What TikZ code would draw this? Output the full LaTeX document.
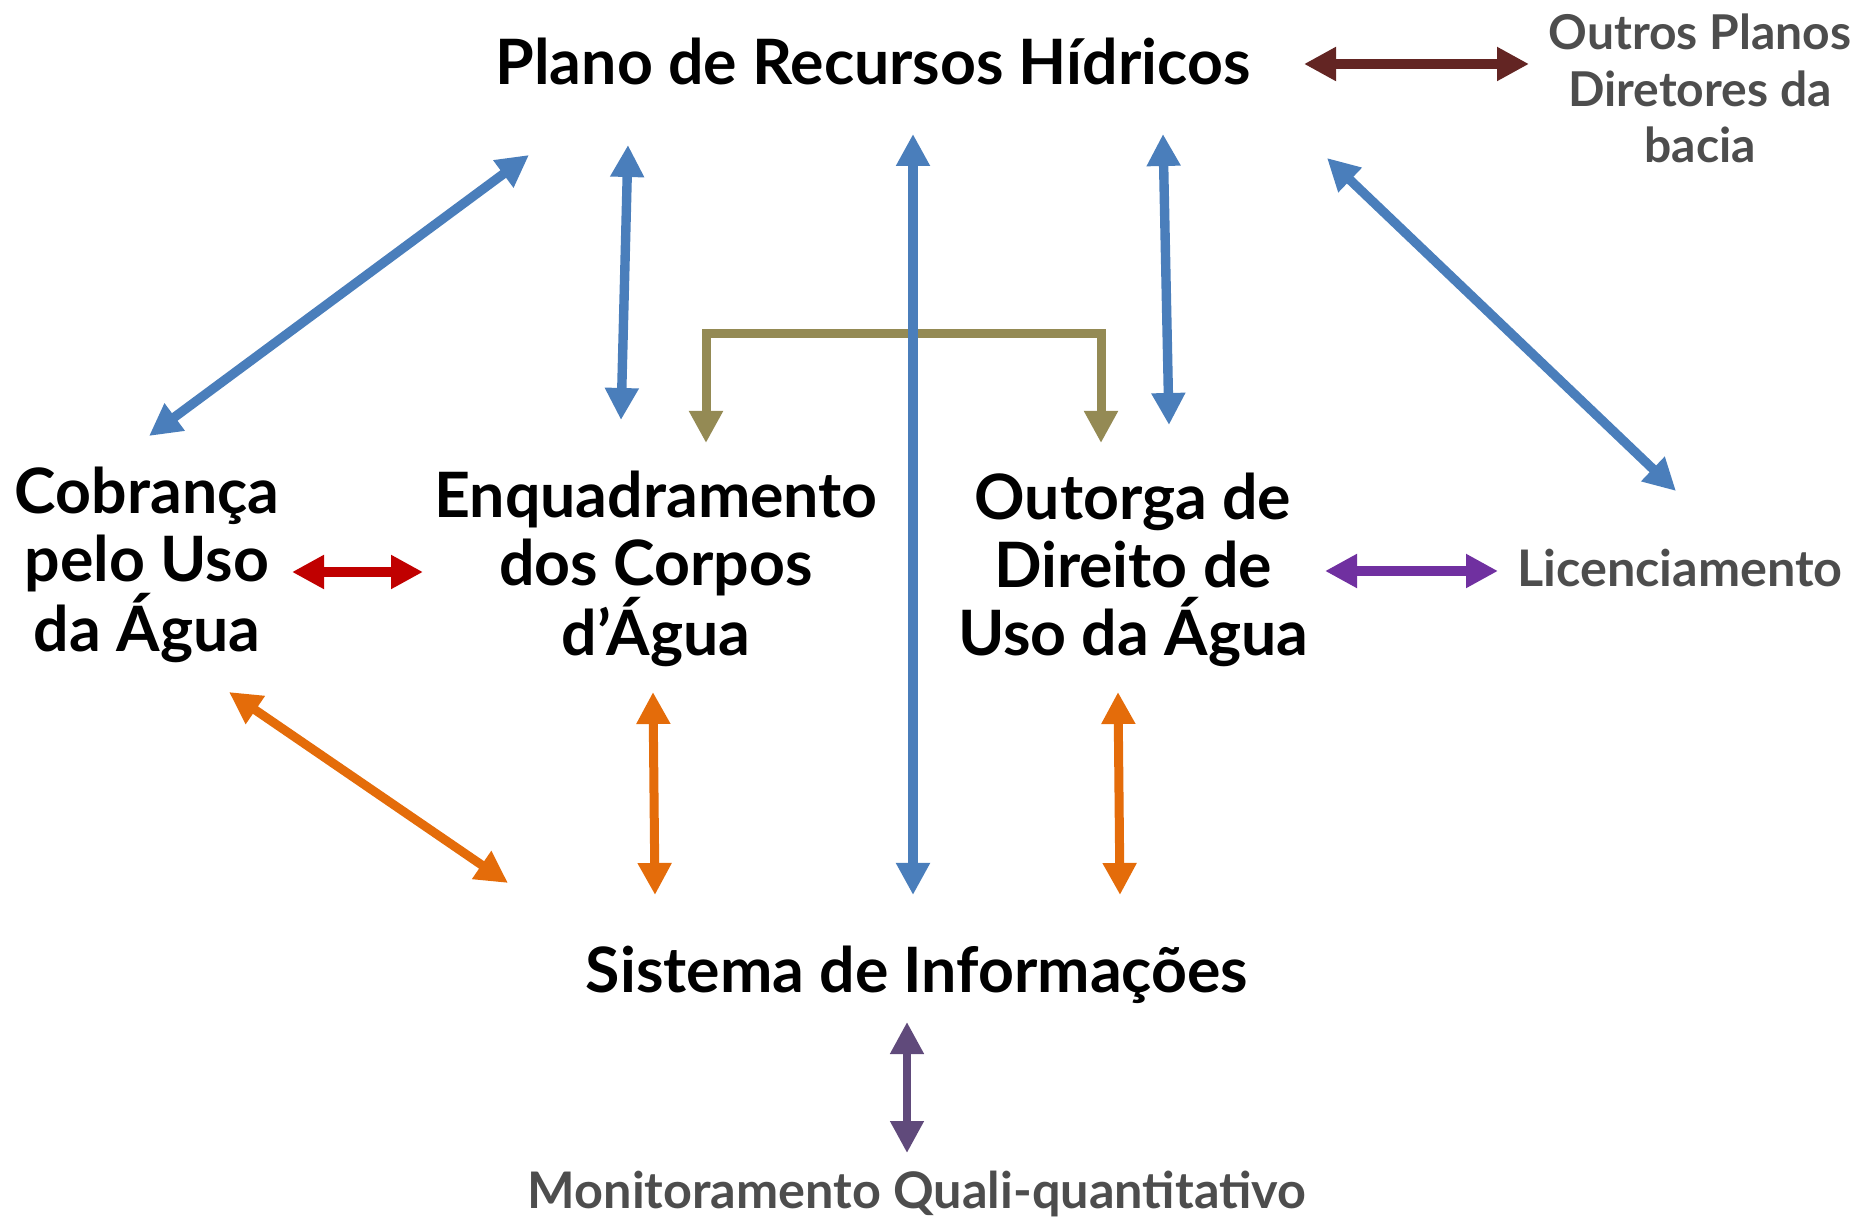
\documentclass[tikz,border=0pt]{standalone}
\usepackage{fontspec}
\setmainfont{Lato}
\usetikzlibrary{arrows.meta}
\definecolor{cblue}{HTML}{4A7EBB}
\definecolor{corange}{HTML}{E46C0A}
\definecolor{cred}{HTML}{C00000}
\definecolor{cpurple}{HTML}{7030A0}
\definecolor{cdpurple}{HTML}{604A7B}
\definecolor{cbrown}{HTML}{632523}
\definecolor{colive}{HTML}{948A54}
\definecolor{cgray}{HTML}{4D4D4D}
\begin{document}
\begin{tikzpicture}[x=0.5pt,y=-0.5pt,
  tip/.tip={Triangle[length=16pt,width=16pt]},
  dbl/.style={line width=4.7pt,tip-tip},
  main/.style={inner sep=0pt,align=center,anchor=base,text=black,font=\bfseries\fontsize{31.3}{34}\selectfont},
  side/.style={inner sep=0pt,align=center,anchor=base,text=cgray,font=\bfseries\fontsize{24}{28.3}\selectfont},
  sidebig/.style={side,font=\bfseries\fontsize{25.2}{28.3}\selectfont}]
\useasboundingbox (0,0) rectangle (1864,1218);
% nodes (anchor = baseline of last line)
\node[main] (plano) at (873,85) {Plano de Recursos Hídricos};
\node[side] (outros) at (1700,163) {Outros Planos\\Diretores da\\bacia};
\node[main] (cob) at (147,652) {Cobrança\\pelo Uso\\da Água};
\node[main] (enq) at (656,656) {Enquadramento\\dos Corpos\\d’Água};
\node[main] (out) at (1133,656) {Outorga de\\Direito de\\Uso da Água};
\node[sidebig] (lic) at (1680,587) {Licenciamento};
\node[main] (sis) at (917,993) {Sistema de Informações};
\node[sidebig] (mon) at (917,1208) {Monitoramento Quali-quantitativo};
% endpoints
\coordinate (b1a) at (529,155); \coordinate (b1b) at (149,436);
\coordinate (b2a) at (628,145); \coordinate (b2b) at (621,420);
\coordinate (b3a) at (913,134); \coordinate (b3b) at (913,895);
\coordinate (b4a) at (1163,134); \coordinate (b4b) at (1169,425);
\coordinate (b5a) at (1327,158); \coordinate (b5b) at (1676,491);
\coordinate (bra) at (1304,64); \coordinate (brb) at (1529,64);
\coordinate (rda) at (292,572); \coordinate (rdb) at (423,572);
\coordinate (pua) at (1325,571); \coordinate (pub) at (1498,571);
\coordinate (o1a) at (229,692); \coordinate (o1b) at (508,883);
\coordinate (o2a) at (653,692); \coordinate (o2b) at (655,895);
\coordinate (o3a) at (1118,692); \coordinate (o3b) at (1120,895);
\coordinate (dpa) at (907,1022); \coordinate (dpb) at (907,1153);
\coordinate (ola) at (706,443); \coordinate (olm) at (904,334); \coordinate (olb) at (1101,443);
% connectors
\draw[dbl,cbrown] (bra) -- (brb);
\draw[dbl,cblue] (b1a) -- (b1b);
\draw[dbl,cblue] (b2a) -- (b2b);
\draw[dbl,cblue] (b4a) -- (b4b);
\draw[dbl,cblue] (b5a) -- (b5b);
\draw[line width=4.5pt,colive,tip-tip,line join=miter] (ola) |- (olm) -| (olb);
\draw[dbl,cblue] (b3a) -- (b3b);
\draw[dbl,cred] (rda) -- (rdb);
\draw[dbl,cpurple] (pua) -- (pub);
\draw[dbl,corange,line width=4.5pt] (o1a) -- (o1b);
\draw[dbl,corange,line width=4.5pt] (o2a) -- (o2b);
\draw[dbl,corange,line width=4.5pt] (o3a) -- (o3b);
\draw[dbl,cdpurple,line width=3.8pt] (dpa) -- (dpb);
\end{tikzpicture}
\end{document}
